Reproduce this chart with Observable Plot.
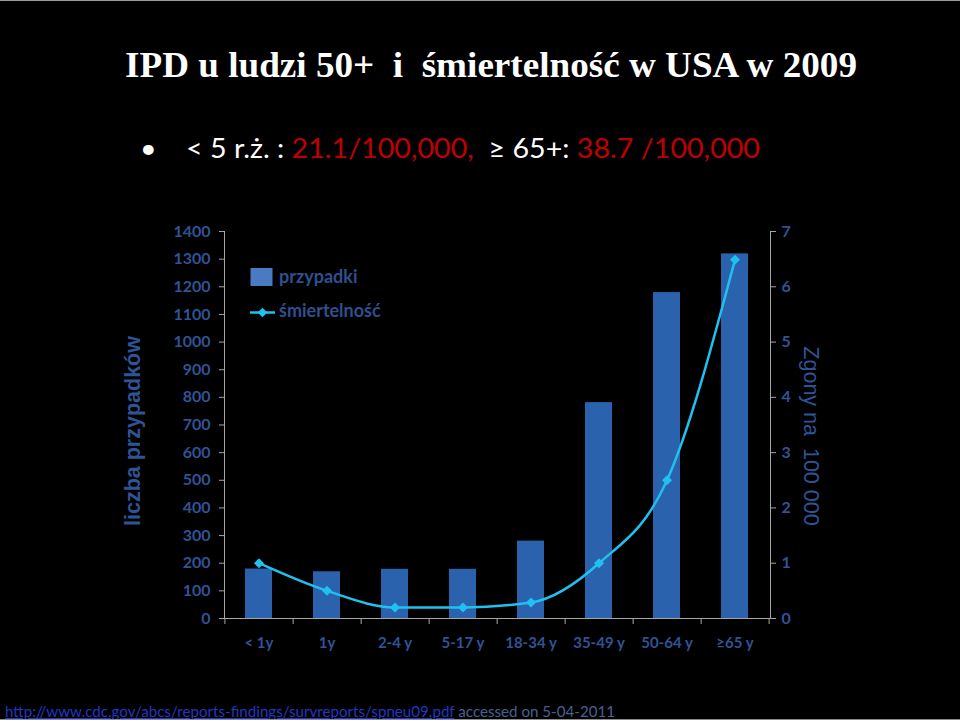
<!DOCTYPE html>
<html>
<head>
<meta charset="utf-8">
<script src="https://cdn.jsdelivr.net/npm/d3@7"></script>
<script src="https://cdn.jsdelivr.net/npm/@observablehq/plot@0.6"></script>
<style>
  html, body { margin: 0; padding: 0; background: #000; }
  #page { position: relative; width: 960px; height: 720px; background: #000; overflow: hidden;
          border-top: 1px solid #9a9a9a; box-sizing: border-box; }
  .abs { position: absolute; white-space: pre; }
  #title { left: 125px; top: 43px; font: bold 36px "Liberation Serif", serif; color: #fff; transform-origin: 0 0; }
  #sub { left: 140px; top: 130px; font: 27px Lato, sans-serif; color: #fff; transform-origin: 0 0; }
  #sub .red { color: #c00000; }
  #chart { position: absolute; left: 0; top: 200px; }
  #ylab { left: 133px; top: 430px; font: bold 21.5px "Liberation Sans", Arial, sans-serif; color: #2f5496;
          transform: translate(-50%, -50%) rotate(-90deg); }
  #y2lab { left: 810px; top: 435px; font: 21.5px "Liberation Sans", Arial, sans-serif; color: #2f5496;
           transform: translate(-50%, -50%) rotate(90deg); }
  #legend { left: 250px; top: 262px; font: bold 18px Lato, sans-serif; color: #2f4f8f; }
  #foot { left: 5px; top: 701px; font: 15px Lato, sans-serif; color: #4a6190; transform-origin: 0 0; }
  #foot a { color: #2236c0; text-decoration: underline; }
  #bottomline { left: 0; top: 718px; width: 960px; height: 2px; background: #8a8a8a; }
</style>
</head>
<body>
<div id="page">
  <div id="title" class="abs"></div>
  <div id="sub" class="abs"></div>
  <div id="chart"></div>
  <div id="ylab" class="abs"></div>
  <div id="y2lab" class="abs"></div>
  <svg id="legend" class="abs" width="170" height="60"></svg>
  <div id="foot" class="abs"></div>
  <div id="bottomline" class="abs"></div>
</div>
<script>
// ---- Data ----
const titleText = "IPD u ludzi 50+  i  śmiertelność w USA w 2009";
const subParts = [
  ["•", "white"], ["    < 5 r.ż. : ", "white"], ["21.1/100,000,", "red"],
  ["  ≥ 65+: ", "white"], ["38.7 /100,000", "red"]
];
const categories = ["< 1y", "1y", "2-4 y", "5-17 y", "18-34 y", "35-49 y", "50-64 y", "≥65 y"];
const cases = [179, 169, 178, 178, 280, 781, 1179, 1319];
const deathRate = [1.0, 0.5, 0.2, 0.2, 0.29, 1.0, 2.5, 6.49];
const leftTicks = [0, 100, 200, 300, 400, 500, 600, 700, 800, 900, 1000, 1100, 1200, 1300, 1400];
const rightTicks = [0, 1, 2, 3, 4, 5, 6, 7];
const leftLabel = "liczba przypadków";
const rightLabel = "Zgony na  100 000";
const legendLabels = ["przypadki", "śmiertelność"];
const footLink = "http://www.cdc.gov/abcs/reports-findings/survreports/spneu09.pdf";
const footRest = " accessed on 5-04-2011";

// ---- Colors ----
const barColor = "#2b62ad";
const legendBarColor = "#4a7ac2";
const lineColor = "#1fc1f0";
const axisColor = "#a6a6a6";
const tickText = "#2f5496";

// ---- Texts ----
const t = document.getElementById("title");
t.textContent = titleText;
const tw = t.getBoundingClientRect().width;
t.style.transform = `scaleX(${732 / tw})`;

const s = document.getElementById("sub");
subParts.forEach(([txt, c]) => {
  const sp = document.createElement("span");
  sp.textContent = txt;
  if (c === "red") sp.className = "red";
  s.appendChild(sp);
});
const sw = s.getBoundingClientRect().width;
s.style.transform = `scaleX(${(760 - 140) / sw})`;

document.getElementById("ylab").textContent = leftLabel;
document.getElementById("y2lab").textContent = rightLabel;

const foot = document.getElementById("foot");
const a = document.createElement("a");
a.textContent = footLink;
foot.appendChild(a);
foot.appendChild(document.createTextNode(footRest));
const fw = foot.getBoundingClientRect().width;
foot.style.transform = `scaleX(${(615 - 5) / fw})`;

// legend
const lg = d3.select("#legend");
lg.append("rect").attr("x", 0.5).attr("y", 5).attr("width", 22).attr("height", 18).attr("fill", legendBarColor);
lg.append("text").attr("x", 29).attr("y", 20).attr("fill", "#2f4f8f").text(legendLabels[0]);
lg.append("line").attr("x1", 0).attr("x2", 25).attr("y1", 49.5).attr("y2", 49.5).attr("stroke", lineColor).attr("stroke-width", 2.5);
lg.append("path").attr("d", d3.symbol(d3.symbolDiamond2, 60)()).attr("transform", "translate(12.5,49.5)").attr("fill", lineColor);
lg.append("text").attr("x", 29).attr("y", 54).attr("fill", "#2f4f8f").text(legendLabels[1]);

// ---- Chart ----
const data = categories.map((c, i) => ({ age: c, cases: cases[i], rate: deathRate[i] }));
const maxLeft = leftTicks[leftTicks.length - 1];
const maxRight = rightTicks[rightTicks.length - 1];
const ratio = maxLeft / maxRight;

const W = 960, H = 460, mL = 224, mR = 190, mT = 30, mB = 43;
const step = (W - mL - mR) / categories.length;

const chart = Plot.plot({
  width: W, height: H,
  marginLeft: mL, marginRight: mR, marginTop: mT, marginBottom: mB,
  style: { background: "transparent", color: tickText, fontFamily: "Lato, sans-serif", fontSize: "15px", fontWeight: "bold", overflow: "visible" },
  x: { domain: categories, paddingInner: 0.6, paddingOuter: 0.3, axis: null },
  y: { domain: [0, maxLeft], axis: null },
  marks: [
    Plot.barY(data, { x: "age", y: "cases", fill: barColor }),
    Plot.axisY(leftTicks, { anchor: "left", tickSize: 5, tickPadding: 9, stroke: axisColor, fill: tickText, tickFormat: d => String(d), fontSize: 16, label: null }),
    Plot.axisY(rightTicks.map(v => v * ratio), { anchor: "right", tickSize: 5, tickPadding: 6, stroke: axisColor, fill: tickText, tickFormat: v => String(v / ratio), fontSize: 16, label: null }),
    Plot.axisX(categories, { anchor: "bottom", tickSize: 0, tickPadding: 19, fill: tickText, label: null }),
    Plot.axisX(categories, { anchor: "bottom", tickSize: 6, text: null, stroke: axisColor, dx: step / 2, label: null }),
    Plot.axisX([categories[0]], { anchor: "bottom", tickSize: 6, text: null, stroke: axisColor, dx: -step / 2, label: null }),
    Plot.frame({ anchor: "left", stroke: axisColor }),
    Plot.frame({ anchor: "right", stroke: axisColor }),
    Plot.ruleY([0], { stroke: axisColor }),
    Plot.line(data, { x: "age", y: d => d.rate * ratio, curve: "monotone-x", stroke: lineColor, strokeWidth: 2.5 }),
    Plot.dot(data, { x: "age", y: d => d.rate * ratio, symbol: "diamond2", r: 4.5, fill: lineColor, stroke: "none" })
  ]
});
document.getElementById("chart").appendChild(chart);
</script>
</body>
</html>
